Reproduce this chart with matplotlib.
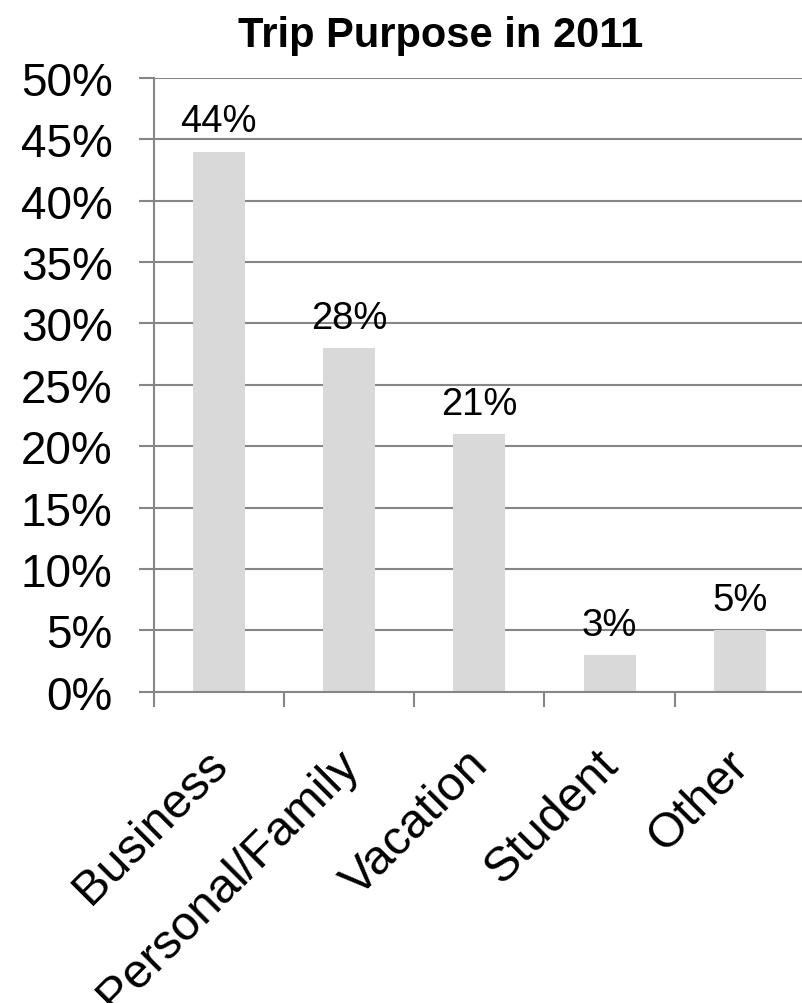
import matplotlib.pyplot as plt
import matplotlib.transforms as mtransforms
from matplotlib.ticker import FuncFormatter

# data
purposes = ["Business", "Personal/Family", "Vacation", "Student", "Other"]
shares = [44, 28, 21, 3, 5]   # percent
y_ticks = [0, 5, 10, 15, 20, 25, 30, 35, 40, 45, 50]

plt.rcParams['font.family'] = ['Liberation Sans', 'DejaVu Sans']
grey = '#868686'

fig = plt.figure(figsize=(8.03, 10.04), dpi=100)
ax = fig.add_axes([0.1913, 0.3101, 0.8113, 0.6113])

x = list(range(len(purposes)))
bars = ax.bar(x, shares, width=0.4, color='#d9d9d9', zorder=2)

for b, v in zip(bars, shares):
    ax.annotate(f"{v}%", (b.get_x() + b.get_width() / 2, v),
                xytext=(0, 14.5), textcoords='offset points',
                ha='center', va='baseline', fontsize=27.5)

ax.set_xlim(-0.5, len(purposes) - 0.5)
ax.set_ylim(0, 50)
ax.set_yticks(y_ticks)
ax.yaxis.set_major_formatter(FuncFormatter(lambda v, p: f"{v:.0f}%"))
ax.yaxis.grid(True, color=grey, linewidth=1.5, zorder=0)
ax.set_axisbelow(True)

for s in ['top', 'right']:
    ax.spines[s].set_visible(False)
for s in ['left', 'bottom']:
    ax.spines[s].set_color(grey)
    ax.spines[s].set_linewidth(1.5)

ax.tick_params(axis='y', length=10.5, width=1.5, color=grey, pad=19,
               labelsize=33, direction='out')
# x ticks sit on category boundaries
ax.set_xticks([i - 0.5 for i in range(len(purposes))])
ax.set_xticklabels([])
ax.tick_params(axis='x', length=10.5, width=1.5, color=grey, direction='out')

# rotated category labels, end of baseline just right of the category centre
off = mtransforms.ScaledTranslation(11 / 100, -74 / 100, fig.dpi_scale_trans)
trans = mtransforms.blended_transform_factory(ax.transData, ax.transAxes) + off
for i, name in enumerate(purposes):
    ax.text(i, 0, name, transform=trans, rotation=45, rotation_mode='anchor',
            ha='right', va='baseline', fontsize=35)

fig.text(441 / 803, 1 - 46.7 / 1004, "Trip Purpose in 2011", ha='center',
         va='baseline', fontsize=30, fontweight='bold')

fig.savefig("out.png", dpi=100)
